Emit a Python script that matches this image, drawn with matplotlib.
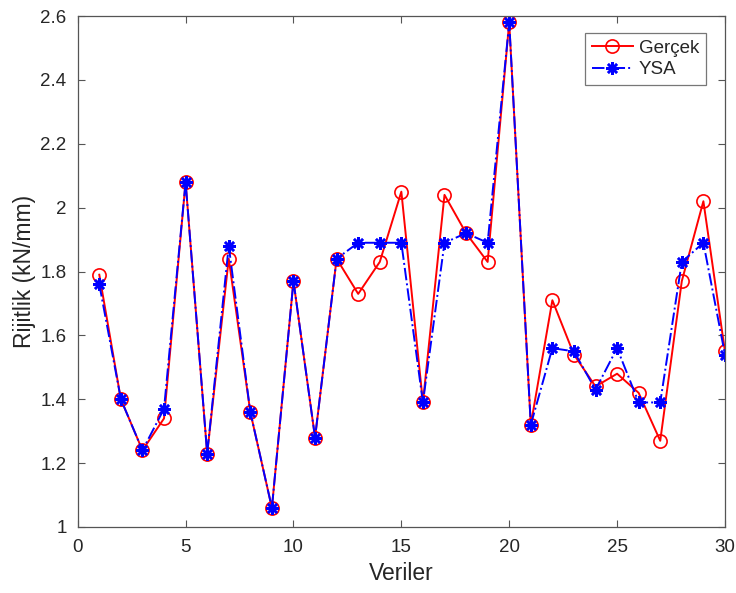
import matplotlib
matplotlib.use("Agg")
import matplotlib.pyplot as plt
from matplotlib.ticker import FuncFormatter

plt.rcParams['font.family'] = ['Liberation Sans', 'DejaVu Sans']

veriler = list(range(1, 31))
gercek = [1.79, 1.40, 1.24, 1.34, 2.08, 1.23, 1.84, 1.36, 1.06, 1.77,
          1.28, 1.84, 1.73, 1.83, 2.05, 1.39, 2.04, 1.92, 1.83, 2.58,
          1.32, 1.71, 1.54, 1.44, 1.48, 1.42, 1.27, 1.77, 2.02, 1.55]
ysa = [1.76, 1.40, 1.24, 1.37, 2.08, 1.23, 1.88, 1.36, 1.06, 1.77,
       1.28, 1.84, 1.89, 1.89, 1.89, 1.39, 1.89, 1.92, 1.89, 2.58,
       1.32, 1.56, 1.55, 1.43, 1.56, 1.39, 1.39, 1.83, 1.89, 1.54]

x_ticks = [0, 5, 10, 15, 20, 25, 30]
y_ticks = [1.0, 1.2, 1.4, 1.6, 1.8, 2.0, 2.2, 2.4, 2.6]

fig = plt.figure(figsize=(7.36, 5.93), dpi=100)
ax = fig.add_axes([0.1056, 0.1113, 0.8794, 0.8617])

ax.plot(veriler, gercek, color='#ff0000', linestyle='-', linewidth=1.4,
        marker='o', markersize=9.5, markerfacecolor='none',
        markeredgecolor='#ff0000', markeredgewidth=1.2, label='Gerçek')
# asterisk marker: four crossing strokes
ax.plot(veriler, ysa, color='#0000ff', linestyle='-.', linewidth=1.4,
        marker=(8, 2, 0), markersize=9, markerfacecolor='#0000ff',
        markeredgecolor='#0000ff', markeredgewidth=1.8, label='YSA')

ax.set_xlim(0, 30)
ax.set_ylim(1.0, 2.6)
ax.set_xticks(x_ticks)
ax.set_yticks(y_ticks)
ax.yaxis.set_major_formatter(FuncFormatter(lambda v, p: f"{v:g}"))

axis_color = '#262626'
for s in ax.spines.values():
    s.set_color('#555555')
    s.set_linewidth(0.9)
ax.tick_params(direction='in', length=5, width=0.8, colors='#555555',
               labelcolor=axis_color, labelsize=13.5, top=True, right=True)
ax.tick_params(axis='x', pad=9)
ax.tick_params(axis='y', pad=8)

ax.set_xlabel('Veriler', fontsize=16.5, color=axis_color, labelpad=4)
ax.set_ylabel('Rijitlik (kN/mm)', fontsize=16.5, color=axis_color, labelpad=3)

leg = ax.legend(loc='upper right', bbox_to_anchor=(0.97, 0.967),
                fontsize=13.5, frameon=True, fancybox=False,
                handlelength=2.2, handletextpad=0.3, borderpad=0.35,
                labelspacing=0.25, borderaxespad=0)
leg.get_frame().set_edgecolor('#555555')
leg.get_frame().set_linewidth(0.9)
for t in leg.get_texts():
    t.set_color(axis_color)

fig.savefig('out.png', dpi=100, facecolor='white')
